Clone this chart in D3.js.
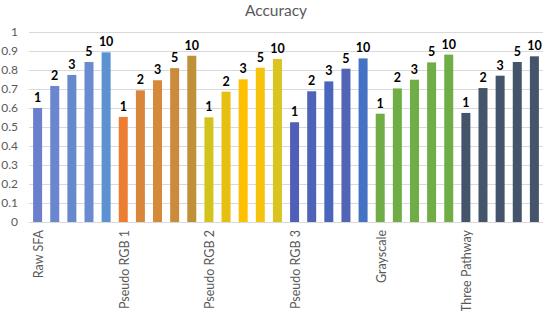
<!DOCTYPE html>
<html>
<head>
<meta charset="utf-8">
<script src="https://cdn.jsdelivr.net/npm/d3@7/dist/d3.min.js"></script>
<style>
body { margin: 0; background: #fff; }
text { font-family: Lato, "Open Sans", sans-serif; }
</style>
</head>
<body>
<script>
var groups = ["Raw SFA", "Pseudo RGB 1", "Pseudo RGB 2", "Pseudo RGB 3", "Grayscale", "Three Pathway"];
var barLabels = ["1", "2", "3", "5", "10"];
var rawSFA = [0.60, 0.716, 0.774, 0.842, 0.893];
var pseudoRGB1 = [0.553, 0.693, 0.746, 0.81, 0.875];
var pseudoRGB2 = [0.551, 0.686, 0.751, 0.812, 0.858];
var pseudoRGB3 = [0.525, 0.688, 0.74, 0.807, 0.861];
var grayscale = [0.57, 0.703, 0.749, 0.84, 0.881];
var threePathway = [0.574, 0.705, 0.77, 0.842, 0.872];
var yTicks = [0, 0.1, 0.2, 0.3, 0.4, 0.5, 0.6, 0.7, 0.8, 0.9, 1];

var colors = [
	["#6b7fcc", "#6a86cf", "#6689cc", "#6a8bd0", "#5b92d2"],
	["#ed7d31", "#d8863a", "#d48a38", "#cc8b3a", "#bf9038"],
	["#d2c41c", "#e6bf10", "#ffc000", "#f5c20c", "#dcc420"],
	["#4f5fb8", "#4e62b8", "#4a66bc", "#5264b5", "#4472c4"],
	["#70ad47", "#70ad47", "#70ad47", "#70ad47", "#70ad47"],
	["#44546a", "#44546a", "#44546a", "#44546a", "#44546a"]
];

var allValues = [rawSFA, pseudoRGB1, pseudoRGB2, pseudoRGB3, grayscale, threePathway];
var dataset = [];
for (var g = 0; g < groups.length; g++) {
	for (var i = 0; i < barLabels.length; i++) {
		dataset.push({ key: g + "-" + i, group: g, idx: i, label: barLabels[i], value: allValues[g][i], color: colors[g][i] });
	}
}

var w = 550;
var h = 311;

var svg = d3.select("body")
			.append("svg")
			.attr("width", w)
			.attr("height", h);

var xScale = d3.scaleBand()
				.domain(dataset.map(function(d){ return d.key; }))
				.range([29, 543])
				.paddingInner(0.475)
				.paddingOuter(0.24);

var yScale = d3.scaleLinear()
				.domain([0, 1])
				.range([222, 32]);

// gridlines
svg.append("g")
	.selectAll("line")
	.data(yTicks)
	.enter()
	.append("line")
	.attr("x1", 29)
	.attr("x2", 543)
	.attr("y1", function(d){ return Math.round(yScale(d)) + 0.5; })
	.attr("y2", function(d){ return Math.round(yScale(d)) + 0.5; })
	.attr("stroke", "#d9d9d9")
	.attr("stroke-width", 1);

var yAxis = d3.axisLeft(yScale)
				.tickValues(yTicks)
				.tickFormat(d3.format("~g"))
				.tickSize(0)
				.tickPadding(11);

var yg = svg.append("g")
	.attr("transform", "translate(29,0)")
	.call(yAxis);
yg.select(".domain").remove();
yg.selectAll("text")
	.attr("fill", "#595959")
	.style("font-size", "12px");

svg.selectAll("rect.bar")
	.data(dataset)
	.enter()
	.append("rect")
	.attr("class", "bar")
	.attr("x", function(d){ return xScale(d.key); })
	.attr("y", function(d){ return yScale(d.value); })
	.attr("width", xScale.bandwidth())
	.attr("height", function(d){ return yScale(0) - yScale(d.value); })
	.attr("fill", function(d){ return d.color; });

svg.selectAll("text.val")
	.data(dataset)
	.enter()
	.append("text")
	.attr("class", "val")
	.attr("x", function(d){ return xScale(d.key) + xScale.bandwidth() / 2; })
	.attr("y", function(d){ return yScale(d.value) - 6; })
	.attr("text-anchor", "middle")
	.attr("fill", "#000")
	.style("font-size", "12.5px")
	.style("font-weight", "bold")
	.text(function(d){ return d.label; });

// x axis line
svg.append("line")
	.attr("x1", 29)
	.attr("x2", 543)
	.attr("y1", 222.5)
	.attr("y2", 222.5)
	.attr("stroke", "#d9d9d9");

// group labels, rotated
svg.selectAll("text.grp")
	.data(groups)
	.enter()
	.append("text")
	.attr("class", "grp")
	.attr("transform", function(d, g){
		var cx = xScale(g + "-0") + xScale.bandwidth() / 2 + 5.5;
		return "translate(" + cx + ",230) rotate(-90)";
	})
	.attr("text-anchor", "end")
	.attr("fill", "#595959")
	.style("font-size", "12.5px")
	.text(function(d){ return d; });

svg.append("text")
	.attr("x", 276)
	.attr("y", 16)
	.attr("text-anchor", "middle")
	.attr("fill", "#595959")
	.style("font-size", "15.5px")
	.text("Accuracy");
</script>
</body>
</html>
